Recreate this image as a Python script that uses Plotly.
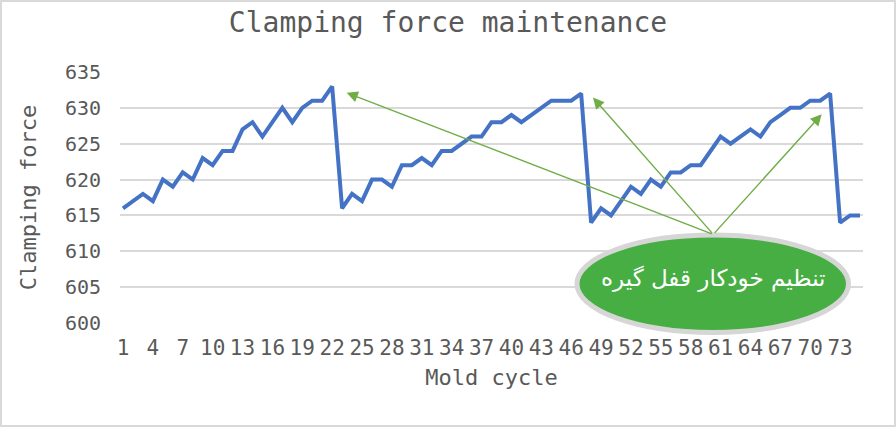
import plotly.graph_objects as go

cycles = list(range(1, 76))
clamping_force = [
    616, 617, 618, 617, 620, 619, 621, 620, 623, 622, 624, 624, 627, 628, 626, 628,
    630, 628, 630, 631, 631, 633,
    616, 618, 617, 620, 620, 619, 622, 622, 623, 622, 624, 624, 625, 626, 626, 628,
    628, 629, 628, 629, 630, 631, 631, 631, 632,
    614, 616, 615, 617, 619, 618, 620, 619, 621, 621, 622, 622, 624, 626, 625, 626,
    627, 626, 628, 629, 630, 630, 631, 631, 632,
    614, 615, 615,
]
x_tick_values = list(range(1, 76, 3))
y_tick_values = [600, 605, 610, 615, 620, 625, 630, 635]
title_text = "Clamping force maintenance"
x_title = "Mold cycle"
y_title = "Clamping force"
callout_text = "تنظیم خودکار قفل گیره"
arrow_origin = (60.27, 612.36)
arrow_targets = [(23.46, 632.1), (48.19, 631.43), (71.15, 629.1)]

FONT = "DejaVu Sans Mono"
GREY = "#595959"

fig = go.Figure()
fig.add_trace(go.Scatter(
    x=cycles, y=clamping_force, mode="lines",
    line=dict(color="#4472c4", width=4), hoverinfo="x+y",
))

L, R, T, B = 120, 33, 72, 104
W, H = 896, 427
pw, ph = W - L - R, H - T - B

def px_x(p):
    return (p - L) / pw

def px_y(p):
    return (H - B - p) / ph

shapes = [
    dict(type="rect", xref="paper", yref="paper",
         x0=px_x(1), x1=px_x(W - 1), y0=px_y(H - 1), y1=px_y(1),
         line=dict(color="#d9d9d9", width=2), fillcolor="rgba(0,0,0,0)", layer="below"),
    dict(type="circle", xref="paper", yref="paper",
         x0=px_x(577), x1=px_x(848.5), y0=px_y(332.5), y1=px_y(235),
         line=dict(color="#d6d6d6", width=5), fillcolor="#47ae44", layer="above"),
]

annotations = []
for tx, ty in arrow_targets:
    annotations.append(dict(
        x=tx, y=ty, xref="x", yref="y", ax=arrow_origin[0], ay=arrow_origin[1],
        axref="x", ayref="y", text="", showarrow=True, arrowhead=2,
        arrowsize=1.6, arrowwidth=1.4, arrowcolor="#70ad47", standoff=0, startstandoff=0,
    ))
annotations.append(dict(
    x=px_x(712.5), y=px_y(284), xref="paper", yref="paper", text=callout_text,
    showarrow=False, xshift=114, yshift=-10,
    font=dict(family="DejaVu Sans", size=23, color="white"),
))

fig.update_layout(
    width=W, height=H,
    margin=dict(l=L, r=R, t=T, b=B),
    paper_bgcolor="white", plot_bgcolor="white",
    showlegend=False,
    title=dict(text=title_text, x=0.5, xanchor="center", y=1 - 22 / H, yanchor="middle",
               font=dict(family=FONT, size=28, color=GREY)),
    xaxis=dict(
        range=[0.7, 75.3], tickmode="array", tickvals=x_tick_values,
        ticktext=[str(v) for v in x_tick_values],
        showgrid=False, zeroline=False, showline=False, ticks="",
        ticklabelstandoff=10,
        tickfont=dict(family=FONT, size=21, color=GREY), tickangle=0,
        title=dict(text=x_title, font=dict(family=FONT, size=22, color=GREY), standoff=10),
    ),
    yaxis=dict(
        range=[600, 635], tickmode="array", tickvals=y_tick_values,
        showgrid=True, gridcolor="#d9d9d9", gridwidth=2, zeroline=False, showline=False,
        ticks="", ticklabelstandoff=18,
        tickfont=dict(family=FONT, size=20, color=GREY),
        title=dict(text=y_title, font=dict(family=FONT, size=22, color=GREY), standoff=22),
    ),
    shapes=shapes,
    annotations=annotations,
)

fig.write_html("out.html", config={"displayModeBar": False},
               post_script="document.body.style.margin='0';document.body.style.overflow='hidden';")
